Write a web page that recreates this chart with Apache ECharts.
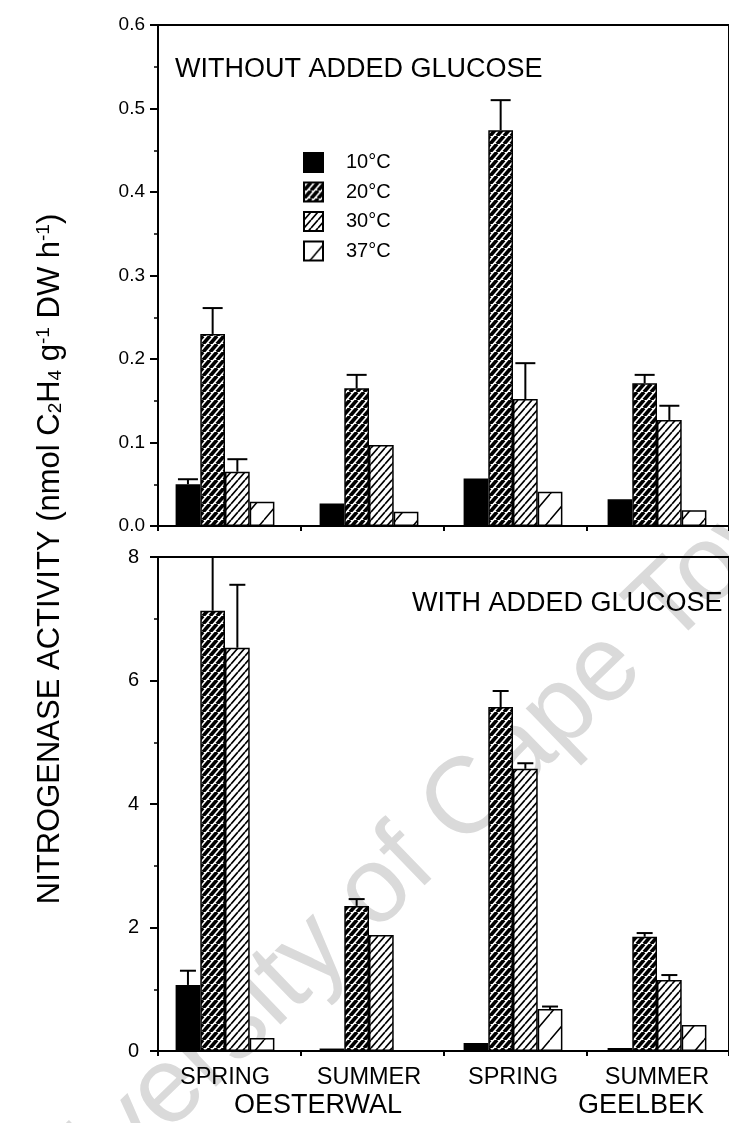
<!DOCTYPE html>
<html>
<head>
<meta charset="utf-8">
<script src="https://cdn.jsdelivr.net/npm/echarts@6/dist/echarts.min.js"></script>
<style>
  html, body { margin: 0; padding: 0; background: #fff; }
  #chart { width: 729px; height: 1123px; }
</style>
</head>
<body>
<div id="chart"></div>
<script>
// Categories
const seasons = ['SPRING', 'SUMMER', 'SPRING', 'SUMMER'];
const sites = ['OESTERWAL', 'GEELBEK'];
const temps = ['10°C', '20°C', '30°C', '37°C'];

// Nitrogenase activity without added glucose (nmol C2H4 g-1 DW h-1)
const noGlc10 = [0.050, 0.027, 0.057, 0.032];
const noGlc20 = [0.230, 0.165, 0.474, 0.171];
const noGlc30 = [0.065, 0.097, 0.152, 0.127];
const noGlc37 = [0.029, 0.017, 0.041, 0.019];
// standard errors (upper whisker length)
const noGlc10Err = [0.006, 0, 0, 0];
const noGlc20Err = [0.031, 0.016, 0.036, 0.010];
const noGlc30Err = [0.015, 0, 0.043, 0.017];
const noGlc37Err = [0, 0, 0, 0];

// Nitrogenase activity with added glucose
const glc10 = [1.07, 0.04, 0.13, 0.05];
const glc20 = [7.13, 2.35, 5.57, 1.85];
const glc30 = [6.53, 1.88, 4.57, 1.15];
const glc37 = [0.21, 0, 0.68, 0.42];
const glc10Err = [0.23, 0, 0, 0];
const glc20Err = [0.87, 0.11, 0.26, 0.06];
const glc30Err = [1.02, 0, 0.09, 0.08];
const glc37Err = [0, 0, 0.04, 0];

// Axis ranges
const topMax = 0.6, topStep = 0.1;
const botMax = 8, botStep = 2;

const FONT = "'Liberation Sans', Arial, Helvetica, sans-serif";
const BAR_W = 24.7;

// Diagonal hatch tiles ("/" direction)
function hatch(w, h, lw, bg, fg) {
  const c = document.createElement('canvas');
  c.width = w; c.height = h;
  const g = c.getContext('2d');
  g.fillStyle = bg; g.fillRect(0, 0, w, h);
  g.strokeStyle = fg; g.lineWidth = lw;
  g.beginPath();
  for (let k = -1; k <= 1; k++) {
    g.moveTo(k * w, h);
    g.lineTo(k * w + w, 0);
  }
  g.stroke();
  return c;
}

const fills = [
  '#000',
  { image: hatch(7, 8, 3.7, '#fff', '#000'), repeat: 'repeat' },
  { image: hatch(7, 8, 1.7, '#fff', '#000'), repeat: 'repeat' },
  { image: hatch(22, 26, 1.5, '#fff', '#000'), repeat: 'repeat' }
];

const topSets = [noGlc10, noGlc20, noGlc30, noGlc37];
const topErrs = [noGlc10Err, noGlc20Err, noGlc30Err, noGlc37Err];
const botSets = [glc10, glc20, glc30, glc37];
const botErrs = [glc10Err, glc20Err, glc30Err, glc37Err];

function barSeries(sets, xi, yi) {
  return sets.map((vals, t) => ({
    name: temps[t],
    type: 'bar',
    xAxisIndex: xi,
    yAxisIndex: yi,
    barWidth: BAR_W,
    barGap: '0%',
    data: vals,
    itemStyle: { color: fills[t], borderColor: '#000', borderWidth: 1.5 },
    emphasis: { disabled: true },
    animation: false,
    z: 3
  }));
}

function errSeries(sets, errs, xi, yi, cap) {
  const pts = [];
  sets.forEach((vals, t) => vals.forEach((v, c) => {
    if (errs[t][c] > 0) pts.push([c, v, v + errs[t][c], t]);
  }));
  return {
    type: 'custom',
    xAxisIndex: xi,
    yAxisIndex: yi,
    data: pts,
    z: 4,
    animation: false,
    renderItem: function (params, api) {
      const c = api.value(0), v = api.value(1), e = api.value(2), t = api.value(3);
      const base = api.coord([c, v]);
      const tip = api.coord([c, e]);
      const x = base[0] + (t - 1.5) * BAR_W;
      return {
        type: 'group',
        children: [
          { type: 'line', shape: { x1: x, y1: base[1], x2: x, y2: tip[1] }, style: { stroke: '#000', lineWidth: 2 } },
          { type: 'line', shape: { x1: x - cap, y1: tip[1], x2: x + cap, y2: tip[1] }, style: { stroke: '#000', lineWidth: 2 } }
        ]
      };
    }
  };
}

const chart = echarts.init(document.getElementById('chart'), null, { renderer: 'canvas' });

const panelTop = { top: 25, height: 501 };
const panelBot = { top: 557, height: 494 };
const barLeft = 153, axisLeft = 158, plotW = 577;

const axisGridStyle = { show: true, borderColor: '#000', borderWidth: 2, backgroundColor: 'transparent' };

function frameX(gi) {
  return {
    type: 'category', gridIndex: gi, data: seasons, boundaryGap: true,
    axisLine: { lineStyle: { color: '#000', width: 2 } },
    axisTick: { show: true, inside: false, length: 5, interval: 0, lineStyle: { color: '#000', width: 2 } },
    axisLabel: { show: false }, splitLine: { show: false }
  };
}
function frameY(gi, max, step, fs, margin, fmt) {
  return {
    type: 'value', gridIndex: gi, min: 0, max: max, interval: step,
    axisLine: { show: true, lineStyle: { color: '#000', width: 2 } },
    axisTick: { show: true, inside: false, length: 8, lineStyle: { color: '#000', width: 2 } },
    minorTick: { show: true, splitNumber: 2, length: 4, lineStyle: { color: '#000', width: 1.5 } },
    splitLine: { show: false }, minorSplitLine: { show: false },
    axisLabel: { color: '#000', fontFamily: FONT, fontSize: fs, margin: margin, formatter: fmt }
  };
}

const siteText = { color: '#000', fontFamily: FONT, fontSize: 27 };

const option = {
  backgroundColor: '#fff',
  animation: false,
  textStyle: { fontFamily: FONT },
  grid: [
    { left: barLeft, width: plotW, top: panelTop.top, height: panelTop.height },
    Object.assign({ left: axisLeft, width: plotW, top: panelTop.top, height: panelTop.height }, axisGridStyle),
    { left: barLeft, width: plotW, top: panelBot.top, height: panelBot.height },
    Object.assign({ left: axisLeft, width: plotW, top: panelBot.top, height: panelBot.height }, axisGridStyle)
  ],
  xAxis: [
    { type: 'category', gridIndex: 0, data: seasons, show: false },
    frameX(1),
    {
      type: 'category', gridIndex: 2, data: seasons, position: 'bottom',
      axisLine: { show: false }, axisTick: { show: false },
      axisLabel: { color: '#000', fontFamily: FONT, fontSize: 23.5, margin: 15, interval: 0 }
    },
    {
      type: 'category', gridIndex: 2, data: sites, position: 'bottom', offset: 0,
      axisLine: { show: false }, axisTick: { show: false },
      axisLabel: {
        margin: 41, interval: 0,
        formatter: (v, i) => '{s' + i + '|' + v + '}',
        rich: {
          s0: Object.assign({ padding: [0, 0, 0, 42] }, siteText),
          s1: Object.assign({ padding: [0, 0, 0, 112] }, siteText)
        }
      }
    },
    frameX(3)
  ],
  yAxis: [
    { type: 'value', gridIndex: 0, min: 0, max: topMax, show: false },
    frameY(1, topMax, topStep, 19, 13, v => v.toFixed(1)),
    { type: 'value', gridIndex: 2, min: 0, max: botMax, show: false },
    frameY(3, botMax, botStep, 20, 19, v => String(v))
  ],
  legend: {
    orient: 'vertical', left: 303, top: 152, padding: 0,
    itemWidth: 19, itemHeight: 19, itemGap: 8.5, icon: 'rect',
    selectedMode: false,
    data: temps,
    textStyle: { color: '#000', fontFamily: FONT, fontSize: 20, padding: [0, 0, 0, 18] }
  },
  graphic: [
    {
      type: 'text', x: 410, y: 858, rotation: 44 * Math.PI / 180, z: -10,
      style: { text: 'University of Cape Town', x: 0, y: 0, align: 'center', verticalAlign: 'middle',
               fill: '#dadada', font: "108px 'Liberation Sans', Arial, sans-serif" }
    },
    {
      type: 'text', x: 175, y: 70, z: 10,
      style: { text: 'WITHOUT ADDED GLUCOSE', x: 0, y: 0, align: 'left', verticalAlign: 'middle',
               fill: '#000', font: "27px 'Liberation Sans', Arial, sans-serif" }
    },
    {
      type: 'text', x: 412, y: 604, z: 10,
      style: { text: 'WITH ADDED GLUCOSE', x: 0, y: 0, align: 'left', verticalAlign: 'middle',
               fill: '#000', font: "27px 'Liberation Sans', Arial, sans-serif" }
    },
    {
      type: 'text', x: 50, y: 559, rotation: Math.PI / 2, z: 10,
      style: {
        x: 0, y: 0, align: 'center', verticalAlign: 'middle',
        text: 'NITROGENASE ACTIVITY (nmol C{s|2}H{s|4} g{p|-1} DW h{p|-1})',
        fill: '#000', font: "31px 'Liberation Sans', Arial, sans-serif",
        rich: {
          s: { fontSize: 19, fontFamily: FONT, fill: '#000', verticalAlign: 'bottom', padding: [10, 0, 0, 0] },
          p: { fontSize: 19, fontFamily: FONT, fill: '#000', verticalAlign: 'top', padding: [0, 0, 10, 0] }
        }
      }
    }
  ],
  series: [].concat(
    barSeries(topSets, 0, 0),
    [errSeries(topSets, topErrs, 0, 0, 10)],
    barSeries(botSets, 2, 2),
    [errSeries(botSets, botErrs, 2, 2, 8)]
  )
};

chart.setOption(option);
</script>
</body>
</html>
